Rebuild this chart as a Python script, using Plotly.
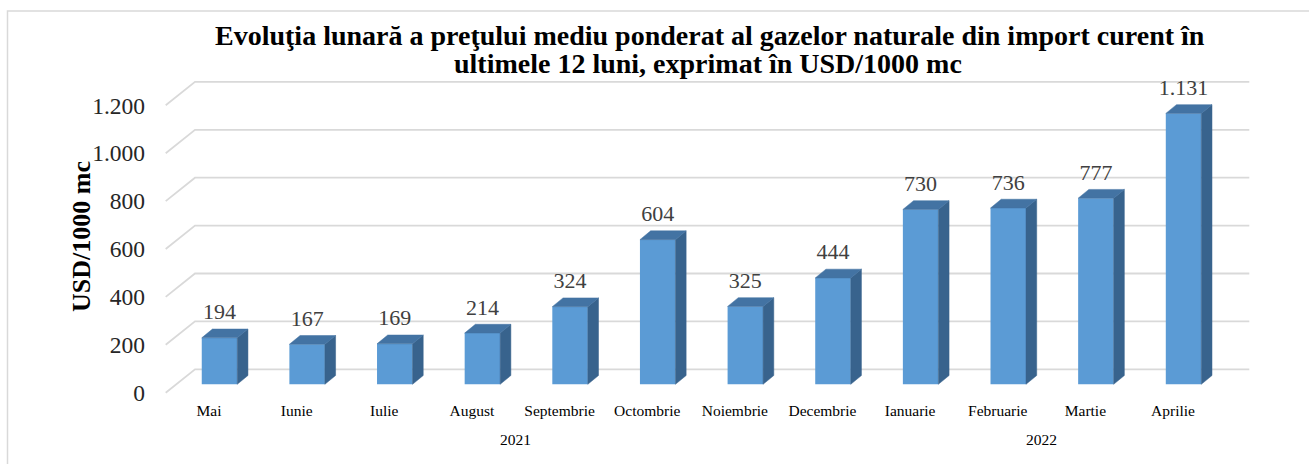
import plotly.graph_objects as go

# ---------------- data ----------------
months = ["Mai", "Iunie", "Iulie", "August", "Septembrie", "Octombrie",
          "Noiembrie", "Decembrie", "Ianuarie", "Februarie", "Martie", "Aprilie"]
years = ["2021"] * 8 + ["2022"] * 4
values = [194, 167, 169, 214, 324, 604, 325, 444, 730, 736, 777, 1131]
y_ticks = [0, 200, 400, 600, 800, 1000, 1200]
title_lines = ["Evoluţia lunară a preţului mediu ponderat al gazelor naturale din import curent în",
               "ultimele 12 luni, exprimat în USD/1000 mc"]
y_title = "USD/1000 mc"

# ---------------- geometry (pixels -> axis units) ----------------
W, H = 1309, 464
X0, SX = 219.5, 87.64     # pixel of category 0 (bar front centre), px per category
Y0, SY = 384.3, 0.2395    # pixel of value 0 (bar front base), px per value unit


def ux(px):
    return px / SX


def uy(px):
    return px / SY


x_range = [(0 - X0) / SX, (W - X0) / SX]
y_range = [(Y0 - H) / SY, Y0 / SY]

bar_w = ux(35.5)
depth_dx, depth_dy = ux(10.7), uy(8.8)        # bar depth vector
front_dx, front_dy = -ux(10.5), -uy(8.4)      # floor front edge relative to bar front
back_dx, back_dy = ux(18.8), uy(15.0)         # back wall relative to bar front
wall_front_x = ux(165.7 - X0)
wall_back_x = ux(195.0 - X0)
wall_right_x = ux(1249.3 - X0)

FONT = "Times New Roman, Liberation Serif, serif"
FRONT = "#5B9BD5"
SIDE = "#38638D"
TOP = "#4373A3"
GRID = "#D9D9D9"

idx = list(range(len(months)))

fig = go.Figure()

# front faces
fig.add_trace(go.Bar(x=idx, y=values, width=bar_w, marker=dict(color=FRONT, line=dict(width=0)),
                     showlegend=False, hoverinfo="skip"))

# side and top faces
sx, sy = [], []
tx, ty = [], []
for i, v in zip(idx, values):
    r = i + bar_w / 2
    l = i - bar_w / 2
    sx += [r, r + depth_dx, r + depth_dx, r, r, None]
    sy += [0, depth_dy, v + depth_dy, v, 0, None]
    tx += [l, l + depth_dx, r + depth_dx, r, l, None]
    ty += [v, v + depth_dy, v + depth_dy, v, v, None]
fig.add_trace(go.Scatter(x=sx, y=sy, mode="lines", fill="toself", fillcolor=SIDE,
                         line=dict(width=0.5, color=SIDE), showlegend=False, hoverinfo="skip"))
fig.add_trace(go.Scatter(x=tx, y=ty, mode="lines", fill="toself", fillcolor=TOP,
                         line=dict(width=0.5, color=TOP), showlegend=False, hoverinfo="skip"))

# data labels
fig.add_trace(go.Scatter(x=idx, y=[v + uy(24) for v in values], mode="text",
                         text=[f"{v:,}".replace(",", ".") for v in values],
                         textposition="middle center",
                         textfont=dict(family=FONT, size=22, color="#404040"),
                         showlegend=False, hoverinfo="skip"))

# dummy trace to materialise label axes
fig.add_trace(go.Scatter(x=[None], y=[None], xaxis="x2", yaxis="y2", showlegend=False, hoverinfo="skip"))

# gridlines (left wall + back wall)
shapes = []
for t in y_ticks:
    path = (f"M {wall_front_x},{t + front_dy} L {wall_back_x},{t + back_dy} "
            f"L {wall_right_x},{t + back_dy}")
    shapes.append(dict(type="path", path=path, xref="x", yref="y", layer="below",
                       line=dict(color=GRID, width=1.8)))
# chart border
shapes.append(dict(type="rect", xref="paper", yref="paper", x0=7.5 / W, x1=1.2,
                   y0=-0.2, y1=1 - 11 / H, line=dict(color=GRID, width=1.5), layer="below"))

annotations = []
annotations.append(dict(text=title_lines[0], x=710 / W, y=1 - 36 / H, xref="paper", yref="paper",
                        xanchor="center", yanchor="middle", showarrow=False,
                        font=dict(family=FONT, size=28, color="black", weight="bold")))
annotations.append(dict(text=title_lines[1], x=708 / W, y=1 - 63.5 / H, xref="paper", yref="paper",
                        xanchor="center", yanchor="middle", showarrow=False,
                        font=dict(family=FONT, size=28, color="black", weight="bold")))
annotations.append(dict(text=y_title, x=81 / W, y=1 - 237 / H, xref="paper", yref="paper",
                        xanchor="center", yanchor="middle", textangle=-90, showarrow=False,
                        font=dict(family=FONT, size=26, color="black", weight="bold")))
for yr in sorted(set(years)):
    pos = [i for i, y in zip(idx, years) if y == yr]
    annotations.append(dict(text=yr, x=sum(pos) / len(pos), y=1 - 439 / H, xref="x2", yref="paper",
                            xanchor="center", yanchor="middle", showarrow=False,
                            font=dict(family=FONT, size=15.5, color="black")))

fig.update_layout(
    width=W, height=H,
    margin=dict(l=0, r=0, t=0, b=0),
    paper_bgcolor="white", plot_bgcolor="white",
    separators=",.",
    barmode="overlay",
    hovermode=False,
    xaxis=dict(range=x_range, visible=False, domain=[0, 1], fixedrange=True),
    yaxis=dict(range=y_range, visible=False, domain=[0, 1], fixedrange=True),
    xaxis2=dict(overlaying="x", anchor="free", position=1 - 399 / H, side="bottom",
                range=[x_range[0] + ux(10.5), x_range[1] + ux(10.5)],
                tickmode="array", tickvals=idx, ticktext=months, ticks="",
                showgrid=False, zeroline=False, showline=False, fixedrange=True,
                tickfont=dict(family=FONT, size=15.5, color="black")),
    yaxis2=dict(overlaying="y", anchor="free", position=145 / W, side="left",
                range=[y_range[0] + uy(8.4), y_range[1] + uy(8.4)],
                tickmode="array", tickvals=y_ticks, tickformat=",d", ticks="",
                showgrid=False, zeroline=False, showline=False, fixedrange=True,
                tickfont=dict(family=FONT, size=23.5, color="#262626")),
    shapes=shapes,
    annotations=annotations,
    showlegend=False,
)

fig.write_html("out.html", config={"displayModeBar": False},
               post_script="document.body.style.margin='0';document.body.style.overflow='hidden';")
